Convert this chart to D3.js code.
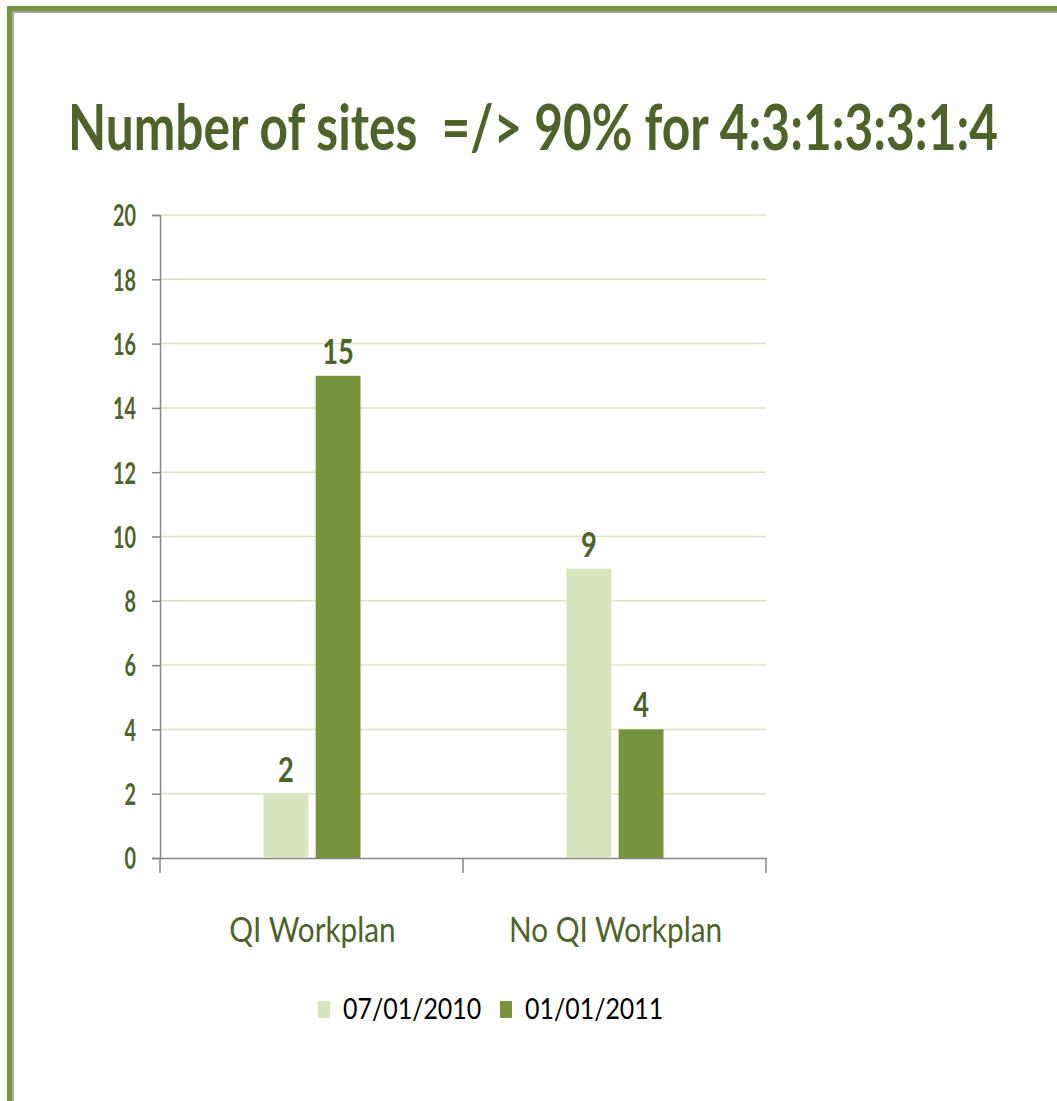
<!DOCTYPE html>
<html>
<head>
<meta charset="utf-8">
<script src="https://cdn.jsdelivr.net/npm/d3@7"></script>
<style>
  body { margin: 0; background: #fff; }
  svg text { font-family: Lato, "Open Sans", sans-serif; }
</style>
</head>
<body>
<div id="chart"></div>
<script>
var categories = ["QI Workplan", "No QI Workplan"];
var seriesNames = ["07/01/2010", "01/01/2011"];
var values2010 = [2, 9];
var values2011 = [15, 4];
var yTicks = [0, 2, 4, 6, 8, 10, 12, 14, 16, 18, 20];
var colors = ["#d7e4bd", "#77933c"];

var width = 1057, height = 1101;
var textColor = "#4f6228";

var svg = d3.select("#chart").append("svg")
  .attr("width", width)
  .attr("height", height);

// squeeze text sideways, the original font is narrower than Lato
function condense(sel, k) {
  sel.each(function () {
    var w = this.getComputedTextLength();
    d3.select(this).attr("textLength", w * k).attr("lengthAdjust", "spacingAndGlyphs");
  });
}

// slide frame
svg.append("rect").attr("x", 7).attr("y", 6).attr("width", width).attr("height", 5).attr("fill", "#77933c");
svg.append("rect").attr("x", 7).attr("y", 6).attr("width", 5).attr("height", height).attr("fill", "#77933c");
svg.append("rect").attr("x", 12).attr("y", 11).attr("width", width).attr("height", 2).attr("fill", "#a6a6a6");
svg.append("rect").attr("x", 12).attr("y", 11).attr("width", 2).attr("height", height).attr("fill", "#a6a6a6");

// title
svg.append("text")
  .attr("x", 68).attr("y", 150)
  .attr("font-size", 64).attr("font-weight", "bold")
  .attr("fill", textColor)
  .style("white-space", "pre")
  .attr("textLength", 930).attr("lengthAdjust", "spacingAndGlyphs")
  .text("Number of sites  =/> 90% for 4:3:1:3:3:1:4");

var plotLeft = 160, plotRight = 766, plotTop = 215, plotBottom = 858;

var y = d3.scaleLinear().domain([0, 20]).range([plotBottom, plotTop]);
var x0 = d3.scaleBand().domain(categories).range([plotLeft, plotRight]);
var groupW = 97;
var x1 = d3.scaleBand().domain(seriesNames).range([0, groupW]).paddingInner(0.14);

// gridlines
svg.append("g").selectAll("line")
  .data(yTicks.filter(function (d) { return d > 0; }))
  .enter().append("line")
  .attr("x1", plotLeft).attr("x2", plotRight)
  .attr("y1", function (d) { return y(d); })
  .attr("y2", function (d) { return y(d); })
  .attr("stroke", "#d7e4bd").attr("stroke-width", 1.5);

// y axis
var yAxis = svg.append("g")
  .attr("transform", "translate(" + plotLeft + ",0)")
  .call(d3.axisLeft(y).tickValues(yTicks).tickSize(8).tickPadding(16));
yAxis.select(".domain").attr("stroke", "#868686").attr("stroke-width", 1.5);
yAxis.selectAll(".tick line").attr("stroke", "#868686").attr("stroke-width", 1.5);
yAxis.selectAll(".tick text")
  .attr("fill", textColor).attr("font-size", 30).attr("font-weight", "bold")
  .attr("font-family", "Lato, sans-serif")
  .attr("dy", "0.36em")
  .call(condense, 0.66);

// x axis
var xAxis = svg.append("g")
  .attr("transform", "translate(0," + plotBottom + ")")
  .call(d3.axisBottom(x0).tickSize(0).tickPadding(0));
xAxis.select(".domain").attr("stroke", "#868686").attr("stroke-width", 1.5);
xAxis.selectAll(".tick text").remove();
svg.append("g").selectAll("line")
  .data([plotLeft].concat(categories.map(function (c) { return x0(c) + x0.bandwidth(); })))
  .enter().append("line")
  .attr("x1", function (d) { return d; }).attr("x2", function (d) { return d; })
  .attr("y1", plotBottom).attr("y2", plotBottom + 15)
  .attr("stroke", "#868686").attr("stroke-width", 1.5);

// category labels
svg.append("g").selectAll("text")
  .data(categories)
  .enter().append("text")
  .attr("x", function (d) { return x0(d) + x0.bandwidth() / 2 + 1; })
  .attr("y", 942)
  .attr("text-anchor", "middle")
  .attr("font-size", 35)
  .attr("fill", textColor)
  .text(function (d) { return d; })
  .call(condense, 0.85);

// bars
var rows = categories.map(function (c, i) {
  return { cat: c, vals: [values2010[i], values2011[i]] };
});
var groups = svg.append("g").selectAll("g")
  .data(rows)
  .enter().append("g")
  .attr("transform", function (d) {
    return "translate(" + (x0(d.cat) + (x0.bandwidth() - groupW) / 2 + 0.5) + ",0)";
  });

groups.selectAll("rect")
  .data(function (d) { return d.vals.map(function (v, j) { return { s: seriesNames[j], v: v, j: j }; }); })
  .enter().append("rect")
  .attr("x", function (d) { return x1(d.s); })
  .attr("width", x1.bandwidth())
  .attr("y", function (d) { return y(d.v); })
  .attr("height", function (d) { return plotBottom - y(d.v); })
  .attr("fill", function (d) { return colors[d.j]; });

groups.selectAll("text")
  .data(function (d) { return d.vals.map(function (v, j) { return { s: seriesNames[j], v: v }; }); })
  .enter().append("text")
  .attr("x", function (d) { return x1(d.s) + x1.bandwidth() / 2; })
  .attr("y", function (d) { return y(d.v) - 12; })
  .attr("text-anchor", "middle")
  .attr("font-size", 35).attr("font-weight", "bold")
  .attr("fill", textColor)
  .text(function (d) { return d.v; })
  .call(condense, 0.78);

// legend
var legendX = [318, 500];
var legend = svg.append("g").selectAll("g")
  .data(seriesNames)
  .enter().append("g")
  .attr("transform", function (d, i) { return "translate(" + legendX[i] + ",1001)"; });
legend.append("rect")
  .attr("width", 12).attr("height", 17)
  .attr("fill", function (d, i) { return colors[i]; });
legend.append("text")
  .attr("x", 25).attr("y", 18)
  .attr("font-size", 29)
  .attr("fill", "#000")
  .text(function (d) { return d; })
  .call(condense, 0.86);
</script>
</body>
</html>
